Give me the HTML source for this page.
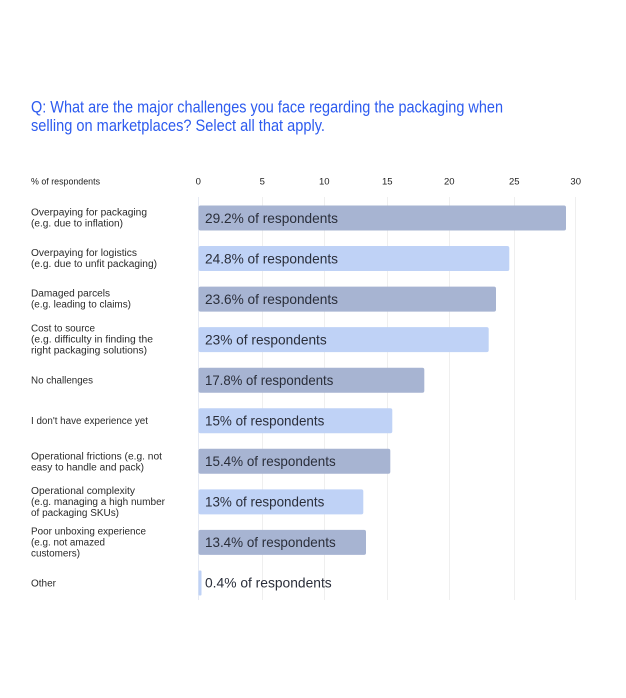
<!DOCTYPE html>
<html><head><meta charset="utf-8">
<style>
html,body{margin:0;padding:0;background:#fff;}
svg{display:block;}
text{font-family:"Liberation Sans","DejaVu Sans",sans-serif;}
</style></head>
<body>
<svg width="626" height="698" viewBox="0 0 626 698" xmlns="http://www.w3.org/2000/svg">
<rect width="626" height="698" fill="#fff"/>
<!-- title -->
<text x="31" y="112.5" font-size="16.5" fill="#2d5bef" textLength="472" lengthAdjust="spacingAndGlyphs">Q: What are the major challenges you face regarding the packaging when</text>
<text x="31" y="131" font-size="16.5" fill="#2d5bef" textLength="294" lengthAdjust="spacingAndGlyphs">selling on marketplaces? Select all that apply.</text>

<!-- axis header -->
<text x="31" y="184.5" font-size="9.5" fill="#222" textLength="69" lengthAdjust="spacingAndGlyphs">% of respondents</text>
<g font-size="9.5" fill="#222" text-anchor="middle">
<text x="198.3" y="184.5">0</text>
<text x="262.3" y="184.5">5</text>
<text x="324.3" y="184.5">10</text>
<text x="387.3" y="184.5">15</text>
<text x="449.3" y="184.5">20</text>
<text x="514.3" y="184.5">25</text>
<text x="575.7" y="184.5">30</text>
</g>

<!-- gridlines -->
<g stroke="#efefef" stroke-width="1">
<line x1="198.5" y1="197" x2="198.5" y2="600" stroke="#e6eaf3"/>
<line x1="262.5" y1="197" x2="262.5" y2="600"/>
<line x1="324.5" y1="197" x2="324.5" y2="600"/>
<line x1="387.5" y1="197" x2="387.5" y2="600"/>
<line x1="449.5" y1="197" x2="449.5" y2="600"/>
<line x1="514.5" y1="197" x2="514.5" y2="600"/>
<line x1="575.5" y1="197" x2="575.5" y2="600"/>
</g>

<!-- bars -->
<g>
<rect x="198.5" y="205.5" width="367.5" height="25" rx="2" fill="#a7b4d2"/>
<rect x="198.5" y="246.05" width="310.8" height="25" rx="2" fill="#bfd2f6"/>
<rect x="198.5" y="286.6" width="297.5" height="25" rx="2" fill="#a7b4d2"/>
<rect x="198.5" y="327.15" width="290.2" height="25" rx="2" fill="#bfd2f6"/>
<rect x="198.5" y="367.7" width="225.8" height="25" rx="2" fill="#a7b4d2"/>
<rect x="198.5" y="408.25" width="193.8" height="25" rx="2" fill="#bfd2f6"/>
<rect x="198.5" y="448.8" width="191.8" height="25" rx="2" fill="#a7b4d2"/>
<rect x="198.5" y="489.35" width="164.8" height="25" rx="2" fill="#bfd2f6"/>
<rect x="198.5" y="529.9" width="167.5" height="25" rx="2" fill="#a7b4d2"/>
<rect x="198.5" y="570.45" width="3" height="25" rx="1" fill="#bfd2f6"/>
</g>

<!-- bar labels -->
<g font-size="14" fill="#2a2e3a">
<text x="205" y="222.8" textLength="133" lengthAdjust="spacingAndGlyphs">29.2% of respondents</text>
<text x="205" y="263.3" textLength="133" lengthAdjust="spacingAndGlyphs">24.8% of respondents</text>
<text x="205" y="303.9" textLength="133" lengthAdjust="spacingAndGlyphs">23.6% of respondents</text>
<text x="205" y="344.4" textLength="121.7" lengthAdjust="spacingAndGlyphs">23% of respondents</text>
<text x="205" y="385" textLength="128.3" lengthAdjust="spacingAndGlyphs">17.8% of respondents</text>
<text x="205" y="425.5" textLength="119.3" lengthAdjust="spacingAndGlyphs">15% of respondents</text>
<text x="205" y="466.1" textLength="130.7" lengthAdjust="spacingAndGlyphs">15.4% of respondents</text>
<text x="205" y="506.6" textLength="119.3" lengthAdjust="spacingAndGlyphs">13% of respondents</text>
<text x="205" y="547.2" textLength="130.7" lengthAdjust="spacingAndGlyphs">13.4% of respondents</text>
<text x="205" y="587.7" textLength="126.7" lengthAdjust="spacingAndGlyphs">0.4% of respondents</text>
</g>

<!-- category labels -->
<g font-size="10" fill="#2a2a2a">
<text x="31" y="215.3" textLength="116" lengthAdjust="spacingAndGlyphs">Overpaying for packaging</text>
<text x="31" y="226.3" textLength="92" lengthAdjust="spacingAndGlyphs">(e.g. due to inflation)</text>

<text x="31" y="255.8" textLength="106" lengthAdjust="spacingAndGlyphs">Overpaying for logistics</text>
<text x="31" y="266.8" textLength="126" lengthAdjust="spacingAndGlyphs">(e.g. due to unfit packaging)</text>

<text x="31" y="296.4" textLength="79" lengthAdjust="spacingAndGlyphs">Damaged parcels</text>
<text x="31" y="307.4" textLength="100" lengthAdjust="spacingAndGlyphs">(e.g. leading to claims)</text>

<text x="31" y="331.4" textLength="64" lengthAdjust="spacingAndGlyphs">Cost to source</text>
<text x="31" y="342.4" textLength="122" lengthAdjust="spacingAndGlyphs">(e.g. difficulty in finding the</text>
<text x="31" y="353.4" textLength="116" lengthAdjust="spacingAndGlyphs">right packaging solutions)</text>

<text x="31" y="383.7" textLength="62" lengthAdjust="spacingAndGlyphs">No challenges</text>

<text x="31" y="424.2" textLength="117" lengthAdjust="spacingAndGlyphs">I don't have experience yet</text>

<text x="31" y="459.6" textLength="131" lengthAdjust="spacingAndGlyphs">Operational frictions (e.g. not</text>
<text x="31" y="470.6" textLength="113" lengthAdjust="spacingAndGlyphs">easy to handle and pack)</text>

<text x="31" y="494.1" textLength="104" lengthAdjust="spacingAndGlyphs">Operational complexity</text>
<text x="31" y="505.1" textLength="134" lengthAdjust="spacingAndGlyphs">(e.g. managing a high number</text>
<text x="31" y="516.1" textLength="88" lengthAdjust="spacingAndGlyphs">of packaging SKUs)</text>

<text x="31" y="534.6" textLength="115" lengthAdjust="spacingAndGlyphs">Poor unboxing experience</text>
<text x="31" y="545.6" textLength="74" lengthAdjust="spacingAndGlyphs">(e.g. not amazed</text>
<text x="31" y="556.6" textLength="49" lengthAdjust="spacingAndGlyphs">customers)</text>

<text x="31" y="586.4" textLength="25" lengthAdjust="spacingAndGlyphs">Other</text>
</g>
</svg>
</body></html>
